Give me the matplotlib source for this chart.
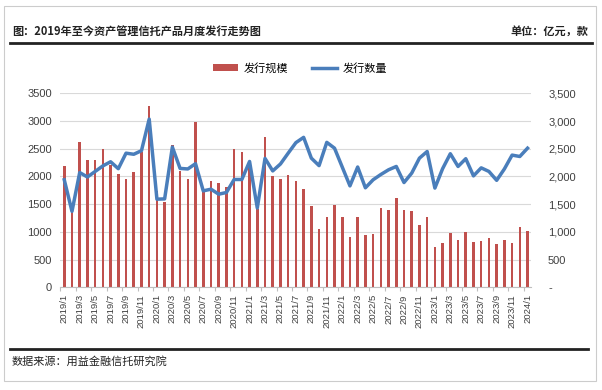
import numpy as np
import matplotlib.pyplot as plt
from matplotlib.ticker import FuncFormatter
from matplotlib.patches import Rectangle

plt.rcParams['font.family'] = ['Noto Sans CJK SC', 'DejaVu Sans']

# monthly data 2019/1 .. 2024/1
months = ['%d/%d' % (y, m) for y in range(2019, 2025) for m in range(1, 13)][:61]

scale = [2190, 1480, 2630, 2300, 2300, 2500, 2200, 2050, 1960, 2080, 2450, 3270,
         1730, 1540, 2570, 2090, 1955, 2980, 1750, 1910, 1880, 1810, 2500, 2450,
         2250, 1420, 2720, 2000, 1960, 2020, 1920, 1770, 1470, 1050, 1270, 1480,
         1265, 905, 1270, 950, 970, 1430, 1400, 1610, 1395, 1375, 1130, 1265,
         725, 800, 980, 850, 1005, 815, 840, 885, 790, 845, 795, 1095,
         1020]

count = [1940, 1370, 2070, 1990, 2090, 2190, 2265, 2140, 2420, 2400, 2465, 3035,
         1590, 1595, 2530, 2145, 2135, 2230, 1740, 1770, 1680, 1710, 1945, 1945,
         2270, 1430, 2325, 2100, 2225, 2420, 2610, 2705, 2330, 2195, 2615, 2510,
         2170, 1830, 2170, 1795, 1940, 2035, 2120, 2180, 1890, 2060, 2330, 2450,
         1790, 2140, 2410, 2180, 2320, 2010, 2155, 2090, 1930, 2135, 2385, 2360,
         2510]

red = '#C0504D'
blue = '#4A7EBB'
grid_c = '#D9D9D9'
text_c = '#404040'
num_font = ['Liberation Sans', 'DejaVu Sans']

fig = plt.figure(figsize=(6.02, 3.90), dpi=100)

# outer frame
fig.patches.append(Rectangle((4 / 602, 1 - 381 / 390), 592 / 602, 375 / 390,
                             transform=fig.transFigure, fill=False,
                             edgecolor='#CCCCCC', linewidth=0.8))

ax = fig.add_axes([60.4 / 602, 1 - 287.3 / 390, 471 / 602, 194 / 390])
ax2 = ax.twinx()

x = np.arange(len(months))
ax.bar(x, scale, width=0.33, color=red, zorder=2, label='发行规模')
ax2.plot(x, count, color=blue, linewidth=2.5, zorder=3, label='发行数量')

for a in (ax, ax2):
    a.set_ylim(0, 3500)
    a.set_xlim(-0.5, len(months) - 0.5)
    for s in a.spines.values():
        s.set_visible(False)
ax.spines['bottom'].set_visible(True)
ax.spines['bottom'].set_color('#BFBFBF')
ax.spines['bottom'].set_linewidth(0.8)

ax.set_yticks(np.arange(0, 3501, 500))
ax2.set_yticks(np.arange(0, 3501, 500))
ax.grid(axis='y', color=grid_c, linewidth=0.8, zorder=0)
ax.set_axisbelow(True)
ax.tick_params(axis='y', length=0, labelsize=8, labelcolor=text_c, pad=6)
ax2.tick_params(axis='y', length=0, labelsize=8, labelcolor=text_c, pad=12)
ax2.yaxis.set_major_formatter(FuncFormatter(lambda v, p: '-' if v == 0 else '{:,.0f}'.format(v)))

ax.set_xticks(x[::2])
ax.set_xticklabels(months[::2], rotation=90, fontsize=6.8, color=text_c)
ax.set_xticks(x[::2] - 0.5, minor=True)
ax.tick_params(axis='x', which='major', length=0, pad=5)
ax.tick_params(axis='x', which='minor', length=3, color='#BFBFBF', width=0.8)

for lab in ax.get_yticklabels() + ax2.get_yticklabels() + ax.get_xticklabels():
    lab.set_family(num_font)

# legend
h1, l1 = ax.get_legend_handles_labels()
h2, l2 = ax2.get_legend_handles_labels()
fig.legend(h1 + h2, l1 + l2, loc='center', bbox_to_anchor=(300 / 602, 1 - 68 / 390),
           ncol=2, frameon=False, fontsize=8, handlelength=2.2, columnspacing=2.2,
           handletextpad=0.5)

# header and footer
fig.text(12 / 602, 1 - 31 / 390, '图：2019年至今资产管理信托产品月度发行走势图',
         fontsize=8, fontweight='bold', va='center', ha='left', color='#222222')
fig.text(588 / 602, 1 - 31 / 390, '单位：亿元，款',
         fontsize=8, fontweight='bold', va='center', ha='right', color='#222222')
fig.add_artist(plt.Line2D([10 / 602, 592 / 602], [1 - 43 / 390, 1 - 43 / 390],
                          transform=fig.transFigure, color='#222222', linewidth=2))
fig.add_artist(plt.Line2D([10 / 602, 588 / 602], [1 - 349 / 390, 1 - 349 / 390],
                          transform=fig.transFigure, color='#222222', linewidth=2))
fig.text(12 / 602, 1 - 361 / 390, '数据来源：用益金融信托研究院',
         fontsize=8, va='center', ha='left', color='#222222')

fig.savefig('out.png', dpi=100)
